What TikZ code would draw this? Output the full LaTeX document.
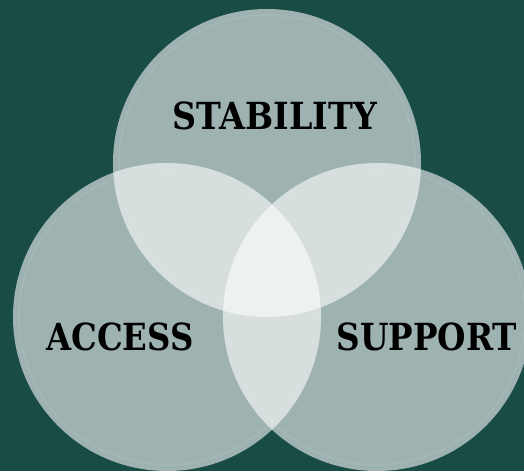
\documentclass[tikz,border=0pt]{standalone}
\usepackage{fontspec}
\setmainfont{DejaVu Serif}
\definecolor{bg}{HTML}{1A4C46}
\begin{document}
\begin{tikzpicture}[x=0.75pt,y=-0.75pt,
  venn/.style={circle, minimum size=231pt, inner sep=0pt, fill=white, fill opacity=0.58, draw=none},
  ring/.style={draw=white, draw opacity=0.07, line width=1.2pt},
  lbl/.style={font=\fontsize{25}{30}\selectfont\bfseries, text=black, inner sep=0pt}]
\useasboundingbox (0,0) rectangle (524,471);
\fill[bg] (0,0) rectangle (524,471);
\node[venn] (top) at (267,163) {};
\node[venn] (left) at (167,317) {};
\node[venn] (right) at (377,317) {};
\draw[ring] (top.center) circle (148);
\draw[ring] (left.center) circle (148);
\draw[ring] (right.center) circle (148);
\node[lbl] (stab) at (275,116) {\scalebox{1}[1.12]{STABILITY}};
\node[lbl] (acc) at (120,337) {\scalebox{0.97}[1.12]{ACCESS}};
\node[lbl] (sup) at (427,337) {\scalebox{0.98}[1.12]{SUPPORT}};
\end{tikzpicture}
\end{document}
